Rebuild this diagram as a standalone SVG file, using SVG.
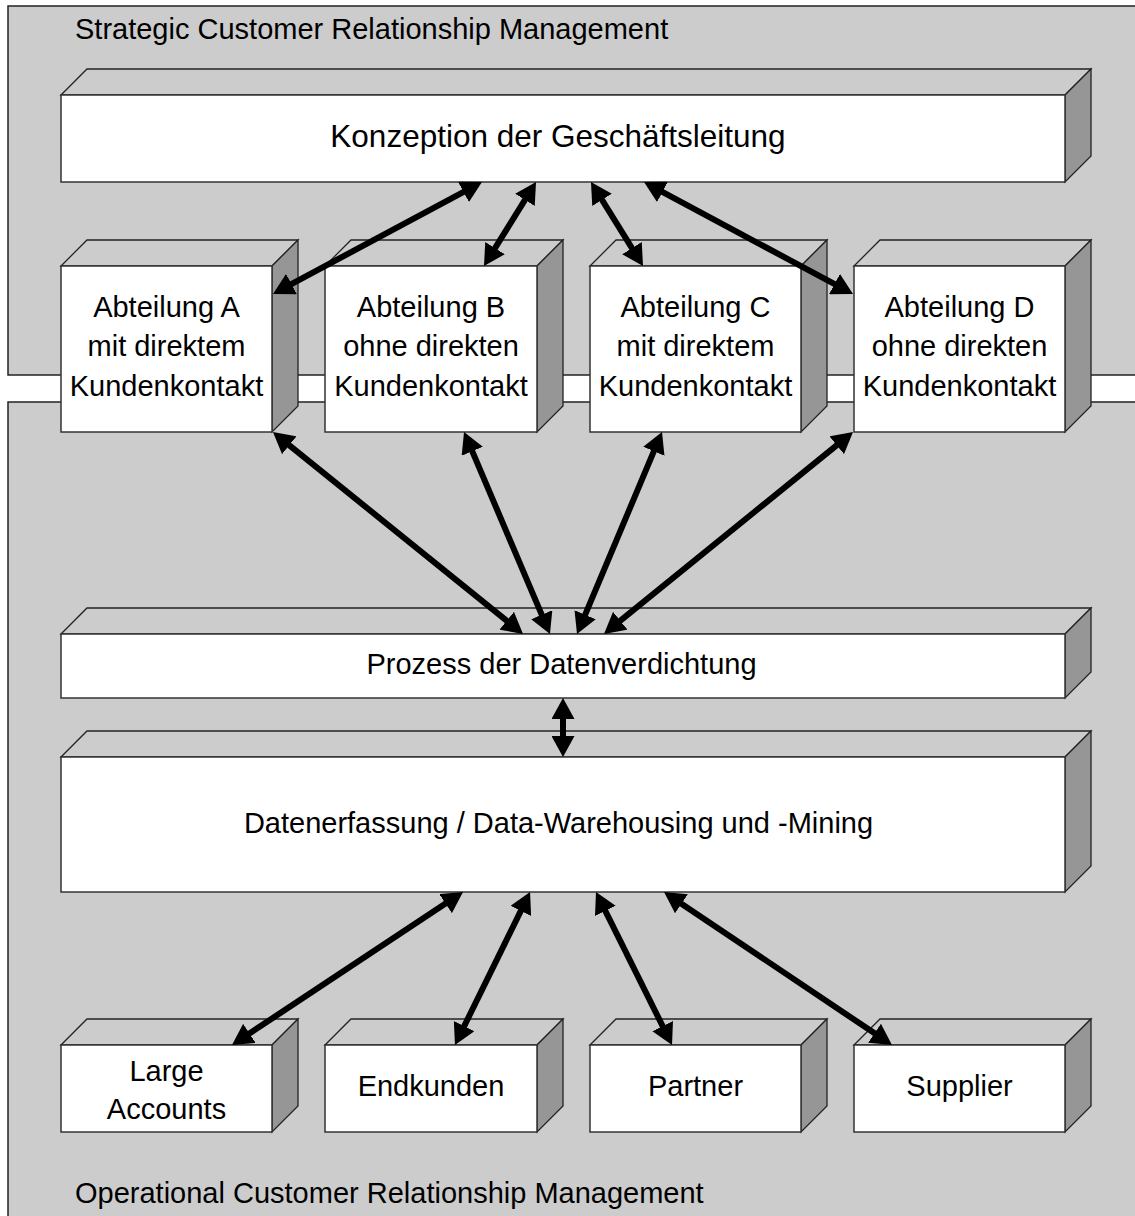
<svg xmlns="http://www.w3.org/2000/svg" width="1135" height="1216" viewBox="0 0 1135 1216">
<style>
.panel{fill:#cccccc;stroke:#222;stroke-width:1.5}
.front{fill:#ffffff;stroke:#333;stroke-width:1.5}
.top{fill:#cccccc;stroke:#222;stroke-width:1.3}
.side{fill:#969696;stroke:#222;stroke-width:1.3}
text{font-family:"Liberation Sans",Arial,sans-serif;font-size:29px;fill:#000}
.c{text-anchor:middle}
.arr{stroke:#000;stroke-width:6;fill:none;marker-start:url(#ah);marker-end:url(#ah)}
</style>
<defs>
<marker id="ah" markerUnits="userSpaceOnUse" markerWidth="21" markerHeight="23" refX="5" refY="11.5" orient="auto-start-reverse" viewBox="0 0 21 23">
<path d="M0,0 L21,11.5 L0,23 z" fill="#000"/>
</marker>
</defs>
<rect class="panel" x="8" y="6" width="1140" height="369"/>
<rect class="panel" x="8" y="402" width="1140" height="830"/>
<text x="75" y="39">Strategic Customer Relationship Management</text>
<text x="75" y="1203">Operational Customer Relationship Management</text>

<g id="konzeption">
<polygon class="top" points="61,95 87,69 1091,69 1065,95"/>
<polygon class="side" points="1065,95 1091,69 1091,156 1065,182"/>
<rect class="front" x="61" y="95" width="1004" height="87"/>
<text class="c" x="558" y="147" style="font-size:31.5px">Konzeption der Geschäftsleitung</text>
</g>

<g id="abteilungA">
<polygon class="top" points="61,266 87,240 298,240 272,266"/>
<polygon class="side" points="272,266 298,240 298,406 272,432"/>
<rect class="front" x="61" y="266" width="211" height="166"/>
<text class="c" x="166.5" y="317">Abteilung A</text>
<text class="c" x="166.5" y="356">mit direktem</text>
<text class="c" x="166.5" y="396">Kundenkontakt</text>
</g>
<g id="abteilungB">
<polygon class="top" points="325,266 351,240 563,240 537,266"/>
<polygon class="side" points="537,266 563,240 563,406 537,432"/>
<rect class="front" x="325" y="266" width="212" height="166"/>
<text class="c" x="431" y="317">Abteilung B</text>
<text class="c" x="431" y="356">ohne direkten</text>
<text class="c" x="431" y="396">Kundenkontakt</text>
</g>
<g id="abteilungC">
<polygon class="top" points="590,266 616,240 827,240 801,266"/>
<polygon class="side" points="801,266 827,240 827,406 801,432"/>
<rect class="front" x="590" y="266" width="211" height="166"/>
<text class="c" x="695.5" y="317">Abteilung C</text>
<text class="c" x="695.5" y="356">mit direktem</text>
<text class="c" x="695.5" y="396">Kundenkontakt</text>
</g>
<g id="abteilungD">
<polygon class="top" points="854,266 880,240 1091,240 1065,266"/>
<polygon class="side" points="1065,266 1091,240 1091,406 1065,432"/>
<rect class="front" x="854" y="266" width="211" height="166"/>
<text class="c" x="959.5" y="317">Abteilung D</text>
<text class="c" x="959.5" y="356">ohne direkten</text>
<text class="c" x="959.5" y="396">Kundenkontakt</text>
</g>

<g id="prozess">
<polygon class="top" points="61,634 87,608 1091,608 1065,634"/>
<polygon class="side" points="1065,634 1091,608 1091,672 1065,698"/>
<rect class="front" x="61" y="634" width="1004" height="64"/>
<text class="c" x="561.5" y="674">Prozess der Datenverdichtung</text>
</g>

<g id="datenerfassung">
<polygon class="top" points="61,757 87,731 1091,731 1065,757"/>
<polygon class="side" points="1065,757 1091,731 1091,866 1065,892"/>
<rect class="front" x="61" y="757" width="1004" height="135"/>
<text class="c" x="558.5" y="833">Datenerfassung / Data-Warehousing und -Mining</text>
</g>

<g id="largeAccounts">
<polygon class="top" points="61,1045 87,1019 298,1019 272,1045"/>
<polygon class="side" points="272,1045 298,1019 298,1106 272,1132"/>
<rect class="front" x="61" y="1045" width="211" height="87"/>
<text class="c" x="166.5" y="1081">Large</text>
<text class="c" x="166.5" y="1119">Accounts</text>
</g>
<g id="endkunden">
<polygon class="top" points="325,1045 351,1019 563,1019 537,1045"/>
<polygon class="side" points="537,1045 563,1019 563,1106 537,1132"/>
<rect class="front" x="325" y="1045" width="212" height="87"/>
<text class="c" x="431" y="1096">Endkunden</text>
</g>
<g id="partner">
<polygon class="top" points="590,1045 616,1019 827,1019 801,1045"/>
<polygon class="side" points="801,1045 827,1019 827,1106 801,1132"/>
<rect class="front" x="590" y="1045" width="211" height="87"/>
<text class="c" x="695.5" y="1096">Partner</text>
</g>
<g id="supplier">
<polygon class="top" points="854,1045 880,1019 1091,1019 1065,1045"/>
<polygon class="side" points="1065,1045 1091,1019 1091,1106 1065,1132"/>
<rect class="front" x="854" y="1045" width="211" height="87"/>
<text class="c" x="959.5" y="1096">Supplier</text>
</g>

<g id="connectors">
<line class="arr" x1="467.9" y1="189.6" x2="287.1" y2="286.4"/>
<line class="arr" x1="527.6" y1="195.6" x2="492.4" y2="252.4"/>
<line class="arr" x1="599.4" y1="195.6" x2="634.6" y2="252.4"/>
<line class="arr" x1="658.1" y1="189.6" x2="838.9" y2="286.4"/>
<line class="arr" x1="285.4" y1="442.1" x2="510.6" y2="623.9"/>
<line class="arr" x1="470.3" y1="446.7" x2="543.7" y2="619.3"/>
<line class="arr" x1="655.8" y1="446.7" x2="583.2" y2="619.3"/>
<line class="arr" x1="840.6" y1="442.1" x2="616.4" y2="623.9"/>
<line class="arr" x1="563" y1="714" x2="563" y2="741"/>
<line class="arr" x1="449.7" y1="900.8" x2="245.3" y2="1036.2"/>
<line class="arr" x1="523" y1="906.4" x2="462" y2="1030.6"/>
<line class="arr" x1="603.1" y1="906.3" x2="664.9" y2="1030.7"/>
<line class="arr" x1="677.3" y1="900.9" x2="878.7" y2="1036.1"/>
</g>
</svg>
